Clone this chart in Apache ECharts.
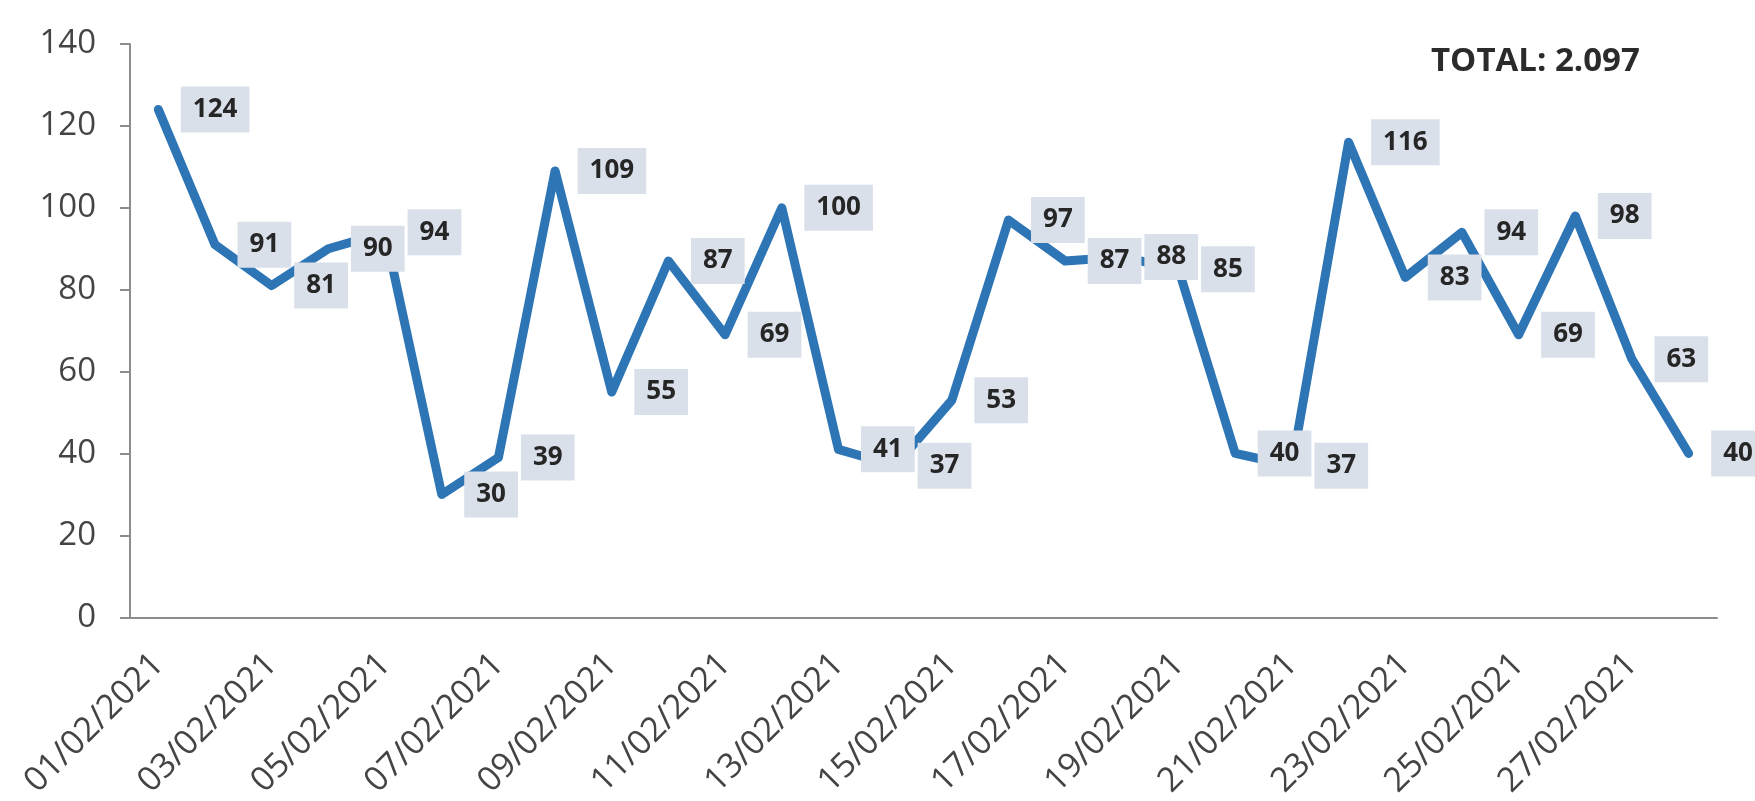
<!DOCTYPE html>
<html>
<head>
<meta charset="utf-8">
<script src="https://cdn.jsdelivr.net/npm/echarts@6/dist/echarts.min.js"></script>
<style>
  html, body { margin: 0; padding: 0; background: #fff; }
  #chart { width: 1755px; height: 801px; }
</style>
</head>
<body>
<div id="chart"></div>
<script>
  // days of February 2021
  let days = ['01/02/2021', '02/02/2021', '03/02/2021', '04/02/2021', '05/02/2021', '06/02/2021', '07/02/2021',
    '08/02/2021', '09/02/2021', '10/02/2021', '11/02/2021', '12/02/2021', '13/02/2021', '14/02/2021',
    '15/02/2021', '16/02/2021', '17/02/2021', '18/02/2021', '19/02/2021', '20/02/2021', '21/02/2021',
    '22/02/2021', '23/02/2021', '24/02/2021', '25/02/2021', '26/02/2021', '27/02/2021', '28/02/2021'];
  let counts = [124, 91, 81, 90, 94, 30, 39, 109, 55, 87, 69, 100, 41, 37,
    53, 97, 87, 88, 85, 40, 37, 116, 83, 94, 69, 98, 63, 40];
  let yTicks = [0, 20, 40, 60, 80, 100, 120, 140];

  let total = 0;
  counts.map((v) => {
    total += v;
  });
  // thousands separator is a dot in the original
  let totalText = 'TOTAL: ' + String(total).replace(/\B(?=(\d{3})+(?!\d))/g, '.');

  let font = "'Open Sans', 'Liberation Sans', sans-serif";
  let axisGray = '#8c8c8c';
  let chart = echarts.init(document.getElementById('chart'));
  chart.setOption({
    animation: false,
    title: {
      text: totalText,
      left: 1426,
      top: 40,
      textStyle: {
        fontFamily: font,
        fontSize: 33,
        fontWeight: 'bold',
        color: '#2b2b2b'
      }
    },
    grid: {
      left: 130,
      right: 38,
      top: 44,
      bottom: 180
    },
    xAxis: {
      type: 'category',
      data: days,
      boundaryGap: true,
      axisLine: {lineStyle: {color: axisGray, width: 2}},
      axisTick: {
        interval: 1,
        length: 10,
        lineStyle: {color: axisGray, width: 2}
      },
      axisLabel: {
        interval: 1,
        rotate: 45,
        margin: 42,
        fontFamily: font,
        fontSize: 34,
        color: '#444'
      }
    },
    yAxis: {
      type: 'value',
      min: yTicks[0],
      max: yTicks[yTicks.length - 1],
      interval: yTicks[1] - yTicks[0],
      splitLine: {show: false},
      axisLine: {show: true, lineStyle: {color: axisGray, width: 2}},
      axisTick: {show: true, length: 10, lineStyle: {color: axisGray, width: 2}},
      axisLabel: {
        margin: 34,
        fontFamily: font,
        fontSize: 33,
        color: '#444'
      }
    },
    series: [{
      type: 'line',
      data: counts,
      symbol: 'circle',
      symbolSize: 1,
      showSymbol: true,
      itemStyle: {color: '#2e75b6'},
      lineStyle: {color: '#2e75b6', width: 9, cap: 'round', join: 'round'},
      emphasis: {disabled: true},
      label: {
        show: true,
        position: 'right',
        distance: 22,
        fontFamily: font,
        fontSize: 26,
        fontWeight: 'bold',
        color: '#262626',
        backgroundColor: '#dae0ea',
        padding: [10, 12],
        lineHeight: 26
      }
    }]
  });
</script>
</body>
</html>
